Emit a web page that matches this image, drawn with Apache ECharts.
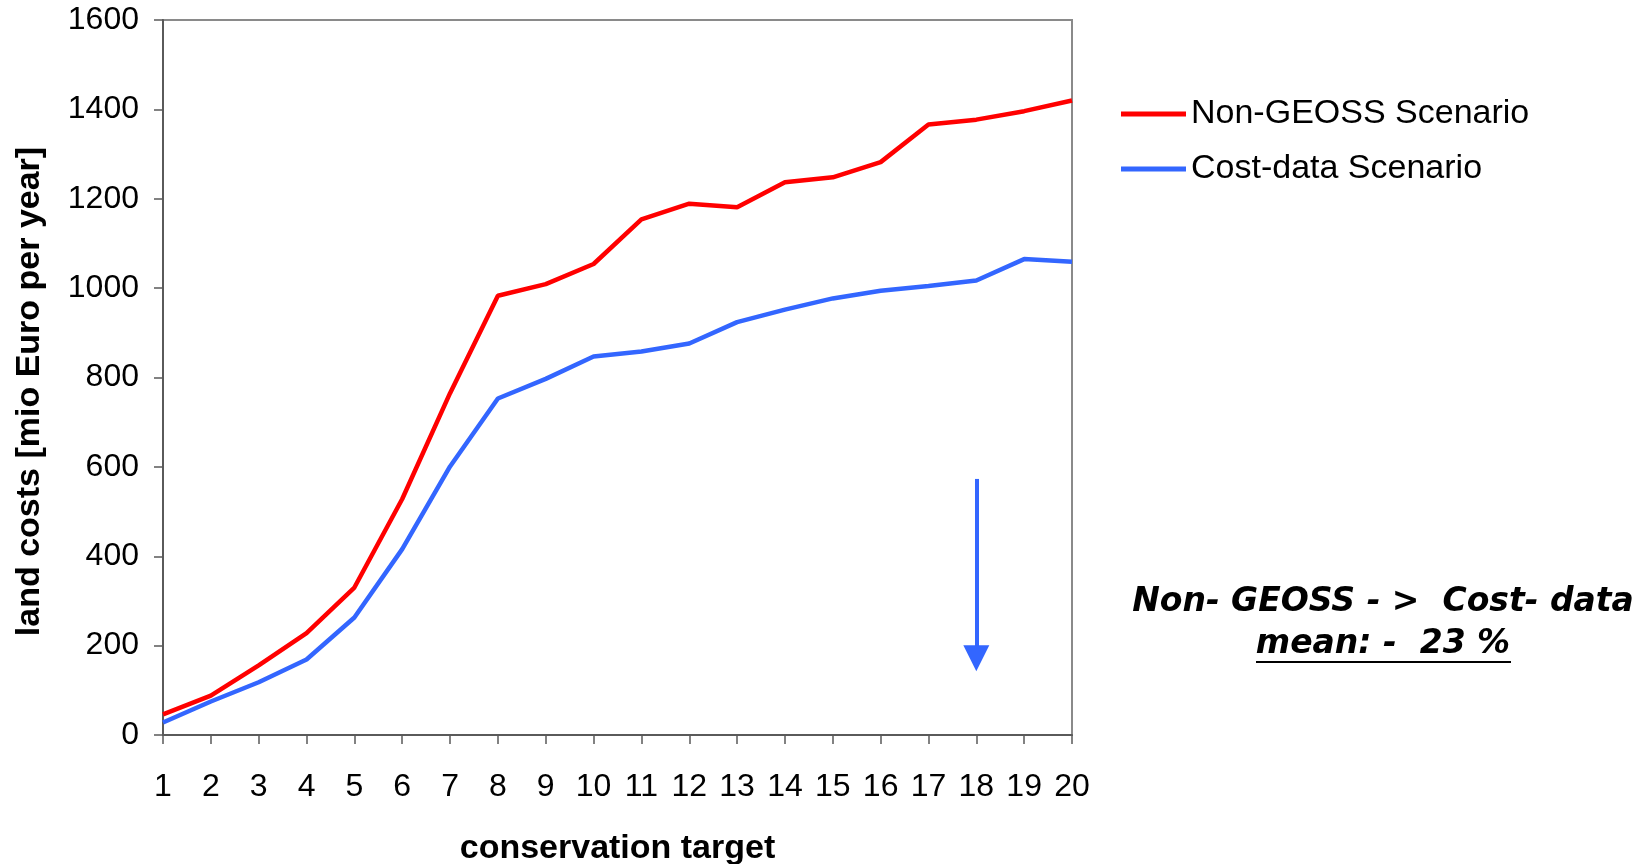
<!DOCTYPE html>
<html>
<head>
<meta charset="utf-8">
<script src="https://cdn.jsdelivr.net/npm/echarts@6/dist/echarts.min.js"></script>
<style>
html,body{margin:0;padding:0;background:#fff;}
#chart{width:1651px;height:864px;}
</style>
</head>
<body>
<div id="chart"></div>
<script>
const categories = ['1','2','3','4','5','6','7','8','9','10','11','12','13','14','15','16','17','18','19','20'];
const nonGeoss = [46, 88, 156, 228, 330, 528, 765, 983, 1009, 1054, 1154, 1189, 1181, 1237, 1248, 1282, 1366, 1377, 1396, 1420];
const costData = [28, 75, 118, 169, 263, 416, 601, 753, 797, 847, 858, 876, 924, 952, 977, 994, 1005, 1017, 1065, 1059];
const seriesNames = ['Non-GEOSS Scenario', 'Cost-data Scenario'];
const yTicks = [0, 200, 400, 600, 800, 1000, 1200, 1400, 1600];
const arrowCategory = '18';
const arrowFrom = 573;
const arrowTo = 172;
const noteLine1 = 'Non- GEOSS - >  Cost- data';
const noteLine2 = 'mean: -  23 %';

const RED = '#ff0000';
const BLUE = '#3366ff';
const AXIS = '#5a5a5a';
const FONT = '"Liberation Sans", Arial, sans-serif';
const NOTE_FONT = 'italic bold 33px "DejaVu Sans", Verdana, sans-serif';

const chart = echarts.init(document.getElementById('chart'));
chart.setOption({
  backgroundColor: '#ffffff',
  animation: false,
  grid: {left: 163, right: 579, top: 20, bottom: 129, show: true, borderColor: '#8a8a8a', borderWidth: 2,
         backgroundColor: 'transparent', containLabel: false, outerBoundsMode: 'none'},
  legend: {
    orient: 'vertical', left: 1116, top: 90,
    itemWidth: 65, itemHeight: 5, itemGap: 17, icon: 'rect',
    textStyle: {fontFamily: FONT, fontSize: 34, color: '#000', lineHeight: 38},
    data: seriesNames
  },
  xAxis: {
    type: 'category', data: categories, boundaryGap: false,
    axisLine: {lineStyle: {color: AXIS, width: 2}},
    axisTick: {show: true, alignWithLabel: true, length: 9, lineStyle: {color: AXIS, width: 1.5}},
    axisLabel: {fontFamily: FONT, fontSize: 32, color: '#000', margin: 36, interval: 0},
    name: 'conservation target', nameLocation: 'middle', nameGap: 97,
    nameTextStyle: {fontFamily: FONT, fontSize: 34, fontWeight: 'bold', color: '#000'},
    splitLine: {show: false}
  },
  yAxis: {
    type: 'value', min: yTicks[0], max: yTicks[yTicks.length-1], interval: yTicks[1]-yTicks[0],
    axisLine: {show: true, lineStyle: {color: AXIS, width: 2}},
    axisTick: {show: true, length: 9, lineStyle: {color: AXIS, width: 1.5}},
    axisLabel: {fontFamily: FONT, fontSize: 32, color: '#000', margin: 24, formatter: v => String(v)},
    splitLine: {show: false},
    name: 'land costs [mio Euro per year]', nameLocation: 'middle', nameGap: 116,
    nameTextStyle: {fontFamily: FONT, fontSize: 34, fontWeight: 'bold', color: '#000', padding: [0, 28, 0, 0]}
  },
  series: [
    {name: seriesNames[0], type: 'line', data: nonGeoss, symbol: 'none', z: 3,
     lineStyle: {color: RED, width: 4.5}, itemStyle: {color: RED}},
    {name: seriesNames[1], type: 'line', data: costData, symbol: 'none', z: 2,
     lineStyle: {color: BLUE, width: 4.5}, itemStyle: {color: BLUE},
     markLine: {
       silent: true, symbol: ['none', 'triangle'], symbolSize: 26,
       label: {show: false},
       lineStyle: {color: BLUE, width: 4, type: 'solid'},
       data: [[{coord: [arrowCategory, arrowFrom]}, {coord: [arrowCategory, arrowTo]}]]
     }}
  ],
  graphic: [
    {type: 'text', x: 1383, y: 602,
     style: {text: noteLine1, font: NOTE_FONT, fill: '#000', align: 'center', verticalAlign: 'middle'}},
    {type: 'text', x: 1383, y: 644,
     style: {text: noteLine2, font: NOTE_FONT, fill: '#000', align: 'center', verticalAlign: 'middle'}},
    {type: 'line', shape: {x1: 1256, y1: 662, x2: 1511, y2: 662}, style: {stroke: '#000', lineWidth: 2}}
  ]
});
</script>
</body>
</html>
